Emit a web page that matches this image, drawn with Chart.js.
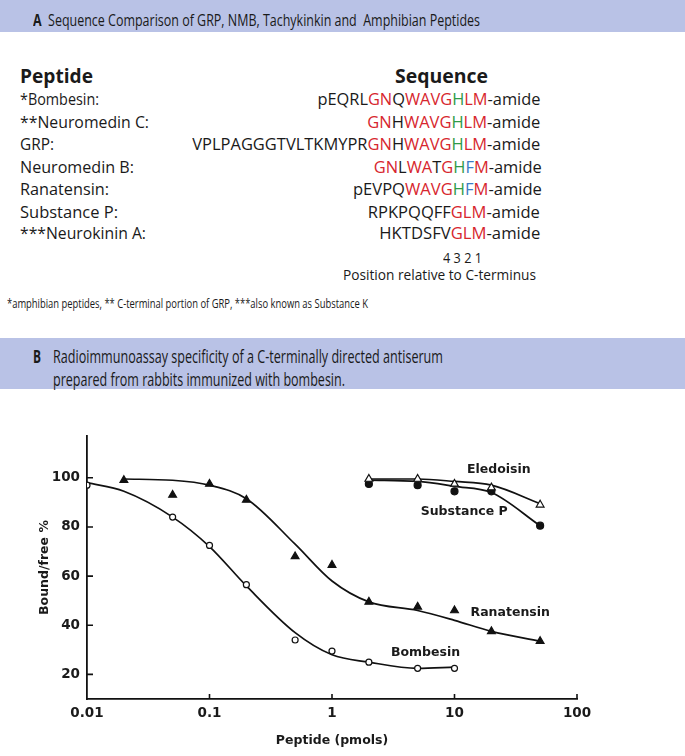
<!DOCTYPE html>
<html>
<head>
<meta charset="utf-8">
<script src="https://cdn.jsdelivr.net/npm/chart.js@4.4.1/dist/chart.umd.min.js"></script>
<style>
  body { margin: 0; background: #fff; }
  #page { position: relative; width: 685px; height: 756px; overflow: hidden; font-family: "Open Sans", sans-serif; color: #1a1a1a; }
  .band { position: absolute; left: 0; width: 685px; background: #b9c2e6; }
  .t { position: absolute; white-space: nowrap; line-height: 20px; height: 20px; transform-origin: left center; }
  .n { font-family: "Liberation Sans Narrow", "Open Sans", sans-serif; }
  .rt { transform-origin: right center; text-align: right; }
  .bold { font-weight: 700; }
  .r { color: #d7262e; }
  .g { color: #2f9a48; }
  .b { color: #3b7cc4; }
  #chartWrap { position: absolute; left: 0; top: 400px; width: 685px; height: 356px; }
</style>
</head>
<body>
<div id="page">
  <div class="band" style="top:0;height:32px;"></div>
  <div class="t n" style="left:33px;top:10px;font-size:16px;" data-w="447"><span class="bold">A</span>&nbsp; Sequence Comparison of GRP, NMB, Tachykinkin and&nbsp; Amphibian Peptides</div>

  <div class="t bold" style="left:20px;top:66px;font-size:19.5px;" data-w="73">Peptide</div>
  <div class="t bold" style="left:395px;top:66px;font-size:19.5px;" data-w="93">Sequence</div>

  <div class="t" style="left:20px;top:89px;font-size:16.5px;" data-w="79">*Bombesin:</div>
  <div class="t" style="left:20px;top:112px;font-size:16.5px;" data-w="129">**Neuromedin C:</div>
  <div class="t" style="left:20px;top:134px;font-size:16.5px;" data-w="34">GRP:</div>
  <div class="t" style="left:20px;top:157px;font-size:16.5px;" data-w="114">Neuromedin B:</div>
  <div class="t" style="left:20px;top:179px;font-size:16.5px;" data-w="89">Ranatensin:</div>
  <div class="t" style="left:20px;top:202px;font-size:16.5px;" data-w="98">Substance P:</div>
  <div class="t" style="left:20px;top:223px;font-size:16.5px;" data-w="126">***Neurokinin A:</div>

  <div class="t rt" style="right:145px;top:89px;font-size:17px;" data-w="223">pEQRL<span class="r">GN</span>Q<span class="r">WAVG</span><span class="g">H</span><span class="r">LM</span>-amide</div>
  <div class="t rt" style="right:145px;top:112px;font-size:17px;" data-w="173"><span class="r">GN</span>H<span class="r">WAVG</span><span class="g">H</span><span class="r">LM</span>-amide</div>
  <div class="t rt" style="right:145px;top:134px;font-size:17px;" data-w="348">VPLPAGGGTVLTKMYPR<span class="r">GN</span>H<span class="r">WAVG</span><span class="g">H</span><span class="r">LM</span>-amide</div>
  <div class="t rt" style="right:143px;top:157px;font-size:17px;" data-w="168"><span class="r">GN</span>L<span class="r">WA</span>T<span class="r">G</span><span class="g">H</span><span class="b">F</span><span class="r">M</span>-amide</div>
  <div class="t rt" style="right:143px;top:179px;font-size:17px;" data-w="189">pEVPQ<span class="r">WAVG</span><span class="g">H</span><span class="b">F</span><span class="r">M</span>-amide</div>
  <div class="t rt" style="right:145px;top:202px;font-size:17px;" data-w="172">RPKPQQFF<span class="r">GLM</span>-amide</div>
  <div class="t rt" style="right:145px;top:223px;font-size:17px;" data-w="161">HKTDSFV<span class="r">GLM</span>-amide</div>

  <div class="t" style="left:443px;top:247px;font-size:15px;" data-w="39">4 3 2 1</div>
  <div class="t" style="left:343px;top:265px;font-size:14.5px;" data-w="193">Position relative to C-terminus</div>

  <div class="t n" style="left:7px;top:293px;font-size:13px;" data-w="361">*amphibian peptides, ** C-terminal portion of GRP, ***also known as Substance K</div>

  <div class="band" style="top:338px;height:51px;"></div>
  <div class="t n bold" style="left:33px;top:346px;font-size:17.5px;" data-w="8">B</div>
  <div class="t n" style="left:53px;top:346px;font-size:17.5px;" data-w="390">Radioimmunoassay specificity of a C-terminally directed antiserum</div>
  <div class="t n" style="left:53px;top:369px;font-size:17.5px;" data-w="292">prepared from rabbits immunized with bombesin.</div>

  <div id="chartWrap"><canvas id="riaChart" width="685" height="356"></canvas></div>
</div>

<script>
// Axis ticks
const xTicks = [0.01, 0.1, 1, 10, 100];
const yTicks = [20, 40, 60, 80, 100];

// Measured points (peptide pmols vs bound/free %)
const bombesinX = [0.01, 0.05, 0.1, 0.2, 0.5, 1, 2, 5, 10];
const bombesinY = [97, 84, 72.5, 56.5, 34, 29.5, 25, 22.5, 22.5];
const ranatensinX = [0.02, 0.05, 0.1, 0.2, 0.5, 1, 2, 5, 10, 20, 50];
const ranatensinY = [99, 93, 97.5, 91, 68, 64.5, 49.5, 47.5, 46, 37.5, 33.5];
const eledoisinX = [2, 5, 10, 20, 50];
const eledoisinY = [99.5, 99.5, 97.5, 96, 89];
const substancePX = [2, 5, 10, 20, 50];
const substancePY = [97.5, 97, 94.5, 94.5, 80.5];

// Hand-drawn fitted curves
const bombesinFitX = [0.01, 0.02, 0.05, 0.1, 0.2, 0.5, 1, 2, 5, 10];
const bombesinFitY = [98, 94.5, 84, 72, 56, 37, 28, 25, 22.5, 23];
const ranatensinFitX = [0.02, 0.05, 0.1, 0.2, 0.5, 1, 2, 5, 10, 20, 50];
const ranatensinFitY = [99.5, 99, 97, 91.5, 73, 58, 49.5, 46, 42, 37.5, 33.5];
const eledoisinFitX = [2, 5, 10, 20, 50];
const eledoisinFitY = [99.5, 99.5, 98.5, 97, 89.5];
const substancePFitX = [2, 5, 10, 20, 50];
const substancePFitY = [99, 98.5, 96.5, 94, 80.5];

// Curve names written next to the curves
const curveNames = ['Eledoisin', 'Substance P', 'Ranatensin', 'Bombesin'];
const nameAtX = [23, 12, 28.5, 5.8];
const nameAtY = [103.2, 86.2, 45.2, 28.9];

// stretch the html text to the widths seen in the figure
document.querySelectorAll('[data-w]').forEach(function(el) {
    const w = el.getBoundingClientRect().width;
    el.style.transform = 'scaleX(' + (el.dataset.w / w) + ')';
});

function pts(xs, ys) {
    return xs.map(function(x, i) { return { x: x, y: ys[i] }; });
}

function markers(label, xs, ys, style, fill, r) {
    return {
        label: label, data: pts(xs, ys), showLine: false, order: 0,
        pointStyle: style, pointRadius: r, pointBackgroundColor: fill,
        pointBorderColor: '#111', pointBorderWidth: 1.2
    };
}

function curve(label, xs, ys) {
    return {
        label: label, data: pts(xs, ys), showLine: true, order: 1,
        pointRadius: 0, borderColor: '#111', borderWidth: 1.7,
        cubicInterpolationMode: 'monotone'
    };
}

const font = { family: 'DejaVu Sans', weight: 'bold', size: 13.5 };

// inward tick marks and the curve names
const extras = {
    id: 'extras',
    afterDraw: function(chart) {
        const ctx = chart.ctx, xs = chart.scales.x, ys = chart.scales.y;
        ctx.save();
        ctx.strokeStyle = '#111';
        ctx.lineWidth = 1.6;
        ctx.beginPath();
        xTicks.slice(1).forEach(function(v) {
            const px = xs.getPixelForValue(v);
            ctx.moveTo(px, ys.bottom); ctx.lineTo(px, ys.bottom - 5);
        });
        yTicks.forEach(function(v) {
            const py = ys.getPixelForValue(v);
            ctx.moveTo(xs.left, py); ctx.lineTo(xs.left + 6, py);
        });
        ctx.stroke();
        ctx.fillStyle = '#1a1a1a';
        ctx.font = 'bold 12.5px "DejaVu Sans"';
        ctx.textAlign = 'center';
        ctx.textBaseline = 'middle';
        curveNames.forEach(function(name, i) {
            ctx.fillText(name, xs.getPixelForValue(nameAtX[i]), ys.getPixelForValue(nameAtY[i]));
        });
        ctx.restore();
    }
};

const config = {
    type: 'scatter',
    data: {
        datasets: [
            markers('Bombesin', bombesinX, bombesinY, 'circle', '#fff', 3),
            markers('Ranatensin', ranatensinX, ranatensinY, 'triangle', '#111', 4.5),
            markers('Eledoisin', eledoisinX, eledoisinY, 'triangle', '#fff', 4.5),
            markers('Substance P', substancePX, substancePY, 'circle', '#111', 3.5),
            curve('Bombesin fit', bombesinFitX, bombesinFitY),
            curve('Ranatensin fit', ranatensinFitX, ranatensinFitY),
            curve('Eledoisin fit', eledoisinFitX, eledoisinFitY),
            curve('Substance P fit', substancePFitX, substancePFitY)
        ]
    },
    options: {
        responsive: false,
        animation: false,
        layout: { padding: { top: 36, right: 108, left: 0, bottom: 0 } },
        plugins: { legend: { display: false }, tooltip: { enabled: false } },
        scales: {
            x: {
                type: 'logarithmic', min: 0.01, max: 100,
                afterBuildTicks: function(axis) { axis.ticks = xTicks.map(function(v) { return { value: v }; }); },
                afterFit: function(axis) { axis.height = 57; },
                grid: { display: false, drawTicks: false },
                border: { color: '#111', width: 1.8 },
                ticks: { color: '#1a1a1a', font: font, padding: 6, maxRotation: 0,
                    callback: function(v) { return String(v); } },
                title: { display: true, text: 'Peptide (pmols)', color: '#1a1a1a',
                    font: { family: 'DejaVu Sans', weight: 'bold', size: 12.5 }, padding: { bottom: 8 } }
            },
            y: {
                min: 10, max: 117,
                afterBuildTicks: function(axis) { axis.ticks = yTicks.map(function(v) { return { value: v }; }); },
                afterFit: function(axis) { axis.width = 87; },
                grid: { display: false, drawTicks: false },
                border: { color: '#111', width: 1.8 },
                ticks: { color: '#1a1a1a', font: font, padding: 7 },
                title: { display: true, text: 'Bound/free %', color: '#1a1a1a',
                    font: { family: 'DejaVu Sans', weight: 'bold', size: 12.5 }, padding: { top: 37 } }
            }
        }
    },
    plugins: [extras]
};

new Chart(document.getElementById('riaChart').getContext('2d'), config);
</script>
</body>
</html>
